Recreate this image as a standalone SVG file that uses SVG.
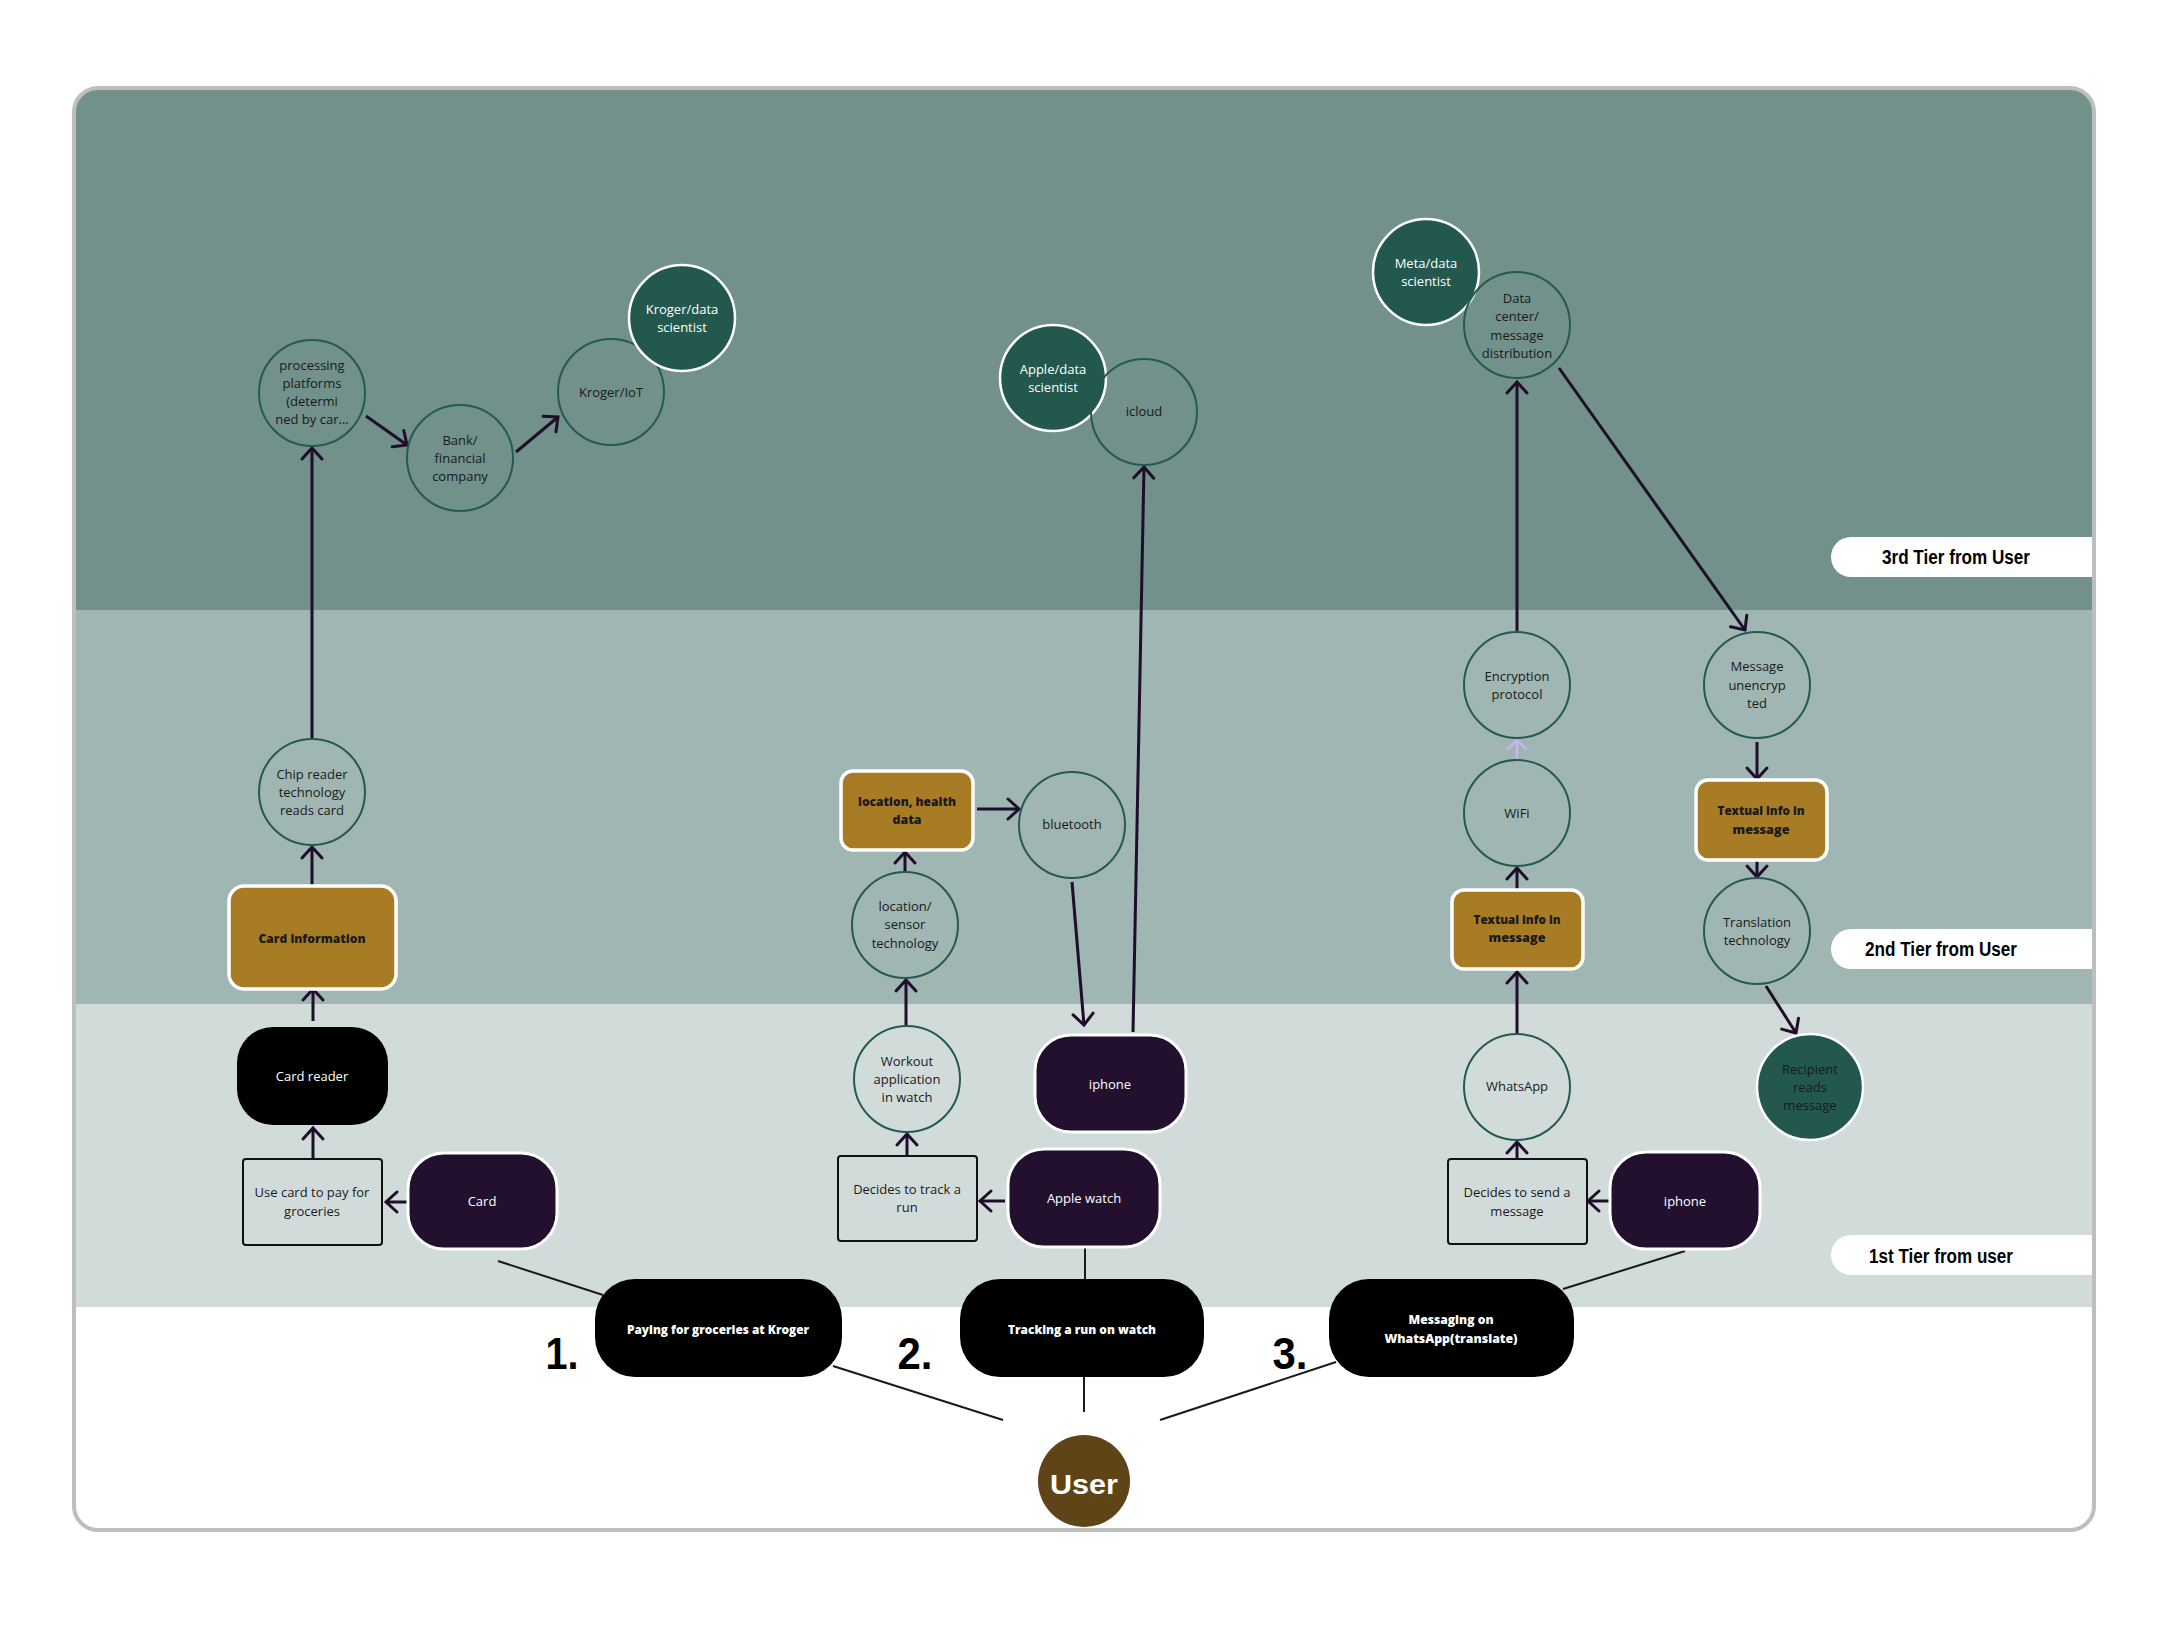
<svg xmlns="http://www.w3.org/2000/svg" width="2168" height="1632" viewBox="0 0 2168 1632">
<style>
text{font-family:"Open Sans","Noto Sans",sans-serif;font-size:13px;fill:#1a1a1a;text-anchor:middle}
.w{fill:#ffffff}
.b{font-weight:800}
.tier{font-family:"Liberation Sans",Arial,sans-serif;font-weight:900;font-size:20px;fill:#000}
.num{font-family:"Liberation Sans",Arial,sans-serif;font-weight:900;font-size:44px;fill:#000}
.c{fill:none;stroke:#245a4f;stroke-width:2}
.cd{fill:#23584e;stroke:#ffffff;stroke-width:2.5}
.gold{fill:#a87c24;stroke:#ffffff;stroke-width:3.5}
.pur{fill:#22102e;stroke:#ffffff;stroke-width:3}
.blk{fill:#000000}
.sq{fill:#d1dbda;stroke:#111111;stroke-width:2}
.ln{stroke:#1f0e2b;stroke-width:3;fill:none}
.lv{stroke:#c7b5ef;stroke-width:2.5;fill:none}
.tl{stroke:#1a1a1a;stroke-width:2;fill:none}
</style>
<defs>
<clipPath id="frameClip"><rect x="74" y="88" width="2020" height="1442" rx="24"/></clipPath>
<marker id="ah" markerUnits="userSpaceOnUse" viewBox="-14 -14 28 28" markerWidth="28" markerHeight="28" refX="0" refY="0" orient="auto">
<path d="M-11,-10 L0,0 L-11,10" fill="none" stroke="#1f0e2b" stroke-width="3" stroke-linecap="round"/>
</marker>
<marker id="ahl" markerUnits="userSpaceOnUse" viewBox="-14 -14 28 28" markerWidth="28" markerHeight="28" refX="0" refY="0" orient="auto">
<path d="M-9,-9 L0,0 L-9,9" fill="none" stroke="#c7b5ef" stroke-width="2.5" stroke-linecap="round"/>
</marker>
</defs>
<rect width="2168" height="1632" fill="#ffffff"/>
<g id="bands" clip-path="url(#frameClip)">
<rect x="74" y="88" width="2020" height="522" fill="#71918a"/>
<rect x="74" y="610" width="2020" height="394" fill="#a0b6b2"/>
<rect x="74" y="1004" width="2020" height="303" fill="#d1dbda"/>
<rect x="74" y="1307" width="2020" height="223" fill="#ffffff"/>
</g>
<g id="tier-labels">
<rect x="1831" y="537" width="290" height="40" rx="20" fill="#ffffff"/>
<text class="tier" x="1956" y="564" textLength="148" lengthAdjust="spacingAndGlyphs">3rd Tier from User</text>
<rect x="1831" y="929" width="290" height="40" rx="20" fill="#ffffff"/>
<text class="tier" x="1941" y="956" textLength="152" lengthAdjust="spacingAndGlyphs">2nd Tier from User</text>
<rect x="1831" y="1235" width="290" height="40" rx="20" fill="#ffffff"/>
<text class="tier" x="1941" y="1263" textLength="144" lengthAdjust="spacingAndGlyphs">1st Tier from user</text>
</g>
<rect id="frame" x="74" y="88" width="2020" height="1442" rx="24" fill="none" stroke="#bebebe" stroke-width="4"/>

<g id="connectors">
<line class="tl" x1="498" y1="1261" x2="603" y2="1295"/>
<line class="tl" x1="833" y1="1366" x2="1003" y2="1420"/>
<line class="tl" x1="1085" y1="1247" x2="1085" y2="1279"/>
<line class="tl" x1="1084" y1="1377" x2="1084" y2="1412"/>
<line class="tl" x1="1160" y1="1420" x2="1336" y2="1362"/>
<line class="tl" x1="1685" y1="1251" x2="1563" y2="1289"/>

<line class="ln" x1="312" y1="739" x2="312" y2="448" marker-end="url(#ah)"/>
<line class="ln" x1="366" y1="416" x2="407" y2="445" marker-end="url(#ah)"/>
<line class="ln" x1="516" y1="452" x2="558" y2="417" marker-end="url(#ah)"/>
<line class="ln" x1="312" y1="886" x2="312" y2="847" marker-end="url(#ah)"/>
<line class="ln" x1="313" y1="1021" x2="313" y2="989" marker-end="url(#ah)"/>
<line class="ln" x1="313" y1="1159" x2="313" y2="1128" marker-end="url(#ah)"/>
<line class="ln" x1="407" y1="1202" x2="386" y2="1202" marker-end="url(#ah)"/>

<line class="ln" x1="906" y1="1025" x2="906" y2="980" marker-end="url(#ah)"/>
<line class="ln" x1="905" y1="872" x2="905" y2="852" marker-end="url(#ah)"/>
<line class="ln" x1="977" y1="809" x2="1019" y2="809" marker-end="url(#ah)"/>
<line class="ln" x1="1072" y1="882" x2="1084" y2="1025" marker-end="url(#ah)"/>
<line class="ln" x1="1133" y1="1032" x2="1144" y2="467" marker-end="url(#ah)"/>
<line class="ln" x1="907" y1="1156" x2="907" y2="1134" marker-end="url(#ah)"/>
<line class="ln" x1="1005" y1="1201" x2="980" y2="1201" marker-end="url(#ah)"/>

<line class="ln" x1="1517" y1="1033" x2="1517" y2="972" marker-end="url(#ah)"/>
<line class="ln" x1="1517" y1="889" x2="1517" y2="868" marker-end="url(#ah)"/>
<line class="lv" x1="1517" y1="760" x2="1517" y2="740" marker-end="url(#ahl)"/>
<line class="ln" x1="1517" y1="632" x2="1517" y2="382" marker-end="url(#ah)"/>
<line class="ln" x1="1559" y1="368" x2="1745" y2="630" marker-end="url(#ah)"/>
<line class="ln" x1="1757" y1="742" x2="1757" y2="779" marker-end="url(#ah)"/>
<line class="ln" x1="1757" y1="861" x2="1757" y2="877" marker-end="url(#ah)"/>
<line class="ln" x1="1766" y1="986" x2="1796" y2="1033" marker-end="url(#ah)"/>
<line class="ln" x1="1517" y1="1159" x2="1517" y2="1142" marker-end="url(#ah)"/>
<line class="ln" x1="1610" y1="1201" x2="1588" y2="1201" marker-end="url(#ah)"/>
</g>

<g id="n-processing"><circle class="c" cx="312" cy="393" r="53"/>
<text x="312" y="370">processing</text><text x="312" y="388">platforms</text><text x="312" y="406">(determi</text><text x="312" y="424">ned by car...</text></g>
<g id="n-bank"><circle class="c" cx="460" cy="458" r="53"/>
<text x="460" y="445">Bank/</text><text x="460" y="463">financial</text><text x="460" y="481">company</text></g>
<g id="n-kroger-iot"><circle class="c" cx="611" cy="392" r="53"/>
<text x="611" y="397">Kroger/IoT</text></g>
<g id="n-kroger-ds"><circle class="cd" cx="682" cy="318" r="53"/>
<text class="w" x="682" y="314">Kroger/data</text><text class="w" x="682" y="332">scientist</text></g>
<g id="n-chip"><circle class="c" cx="312" cy="792" r="53"/>
<text x="312" y="779">Chip reader</text><text x="312" y="797">technology</text><text x="312" y="815">reads card</text></g>
<g id="n-card-info"><rect class="gold" x="229" y="886" width="167" height="103" rx="15"/>
<text class="b" x="312" y="943" textLength="107" lengthAdjust="spacingAndGlyphs">Card information</text></g>
<g id="n-card-reader"><rect class="blk" x="237" y="1027" width="151" height="98" rx="36"/>
<text class="w" x="312" y="1081">Card reader</text></g>
<g id="n-use-card"><rect class="sq" x="243" y="1159" width="139" height="86" rx="3"/>
<text x="312" y="1197">Use card to pay for</text><text x="312" y="1216">groceries</text></g>
<g id="n-card"><rect class="pur" x="408" y="1153" width="149" height="96" rx="36"/>
<text class="w" x="482" y="1206">Card</text></g>
<g id="n-paying"><rect class="blk" x="595" y="1279" width="247" height="98" rx="40"/>
<text class="w b" x="718" y="1334" textLength="182" lengthAdjust="spacingAndGlyphs">Paying for groceries at Kroger</text></g>
<text id="num-1" class="num" x="562" y="1369" textLength="33" lengthAdjust="spacingAndGlyphs">1.</text>

<g id="n-apple-ds"><circle class="cd" cx="1053" cy="378" r="53"/>
<text class="w" x="1053" y="374">Apple/data</text><text class="w" x="1053" y="392">scientist</text></g>
<g id="n-icloud"><circle class="c" cx="1144" cy="412" r="53"/>
<text x="1144" y="416">icloud</text></g>
<g id="n-loc-data"><rect class="gold" x="841" y="771" width="132" height="79" rx="12"/>
<text class="b" x="907" y="806" textLength="98" lengthAdjust="spacingAndGlyphs">location, health</text><text class="b" x="907" y="824" textLength="29" lengthAdjust="spacingAndGlyphs">data</text></g>
<g id="n-bluetooth"><circle class="c" cx="1072" cy="825" r="53"/>
<text x="1072" y="829">bluetooth</text></g>
<g id="n-sensor"><circle class="c" cx="905" cy="925" r="53"/>
<text x="905" y="911">location/</text><text x="905" y="929">sensor</text><text x="905" y="948">technology</text></g>
<g id="n-workout"><circle class="c" cx="907" cy="1079" r="53"/>
<text x="907" y="1066">Workout</text><text x="907" y="1084">application</text><text x="907" y="1102">in watch</text></g>
<g id="n-iphone-2"><rect class="pur" x="1035" y="1035" width="151" height="97" rx="36"/>
<text class="w" x="1110" y="1089">iphone</text></g>
<g id="n-decides-run"><rect class="sq" x="838" y="1156" width="139" height="85" rx="3"/>
<text x="907" y="1194">Decides to track a</text><text x="907" y="1212">run</text></g>
<g id="n-apple-watch"><rect class="pur" x="1008" y="1149" width="152" height="98" rx="36"/>
<text class="w" x="1084" y="1203">Apple watch</text></g>
<g id="n-tracking"><rect class="blk" x="960" y="1279" width="244" height="98" rx="40"/>
<text class="w b" x="1082" y="1334" textLength="148" lengthAdjust="spacingAndGlyphs">Tracking a run on watch</text></g>
<text id="num-2" class="num" x="915" y="1369" textLength="35" lengthAdjust="spacingAndGlyphs">2.</text>

<g id="n-meta-ds"><circle class="cd" cx="1426" cy="272" r="53"/>
<text class="w" x="1426" y="268">Meta/data</text><text class="w" x="1426" y="286">scientist</text></g>
<g id="n-datacenter"><circle class="c" cx="1517" cy="325" r="53"/>
<text x="1517" y="303">Data</text><text x="1517" y="321">center/</text><text x="1517" y="340">message</text><text x="1517" y="358">distribution</text></g>
<g id="n-encryption"><circle class="c" cx="1517" cy="685" r="53"/>
<text x="1517" y="681">Encryption</text><text x="1517" y="699">protocol</text></g>
<g id="n-unencrypted"><circle class="c" cx="1757" cy="685" r="53"/>
<text x="1757" y="671">Message</text><text x="1757" y="690">unencryp</text><text x="1757" y="708">ted</text></g>
<g id="n-wifi"><circle class="c" cx="1517" cy="813" r="53"/>
<text x="1517" y="818">WiFi</text></g>
<g id="n-textual-1"><rect class="gold" x="1452" y="890" width="131" height="79" rx="12"/>
<text class="b" x="1517" y="924" textLength="87" lengthAdjust="spacingAndGlyphs">Textual info in</text><text class="b" x="1517" y="942" textLength="57" lengthAdjust="spacingAndGlyphs">message</text></g>
<g id="n-textual-2"><rect class="gold" x="1696" y="780" width="131" height="80" rx="12"/>
<text class="b" x="1761" y="815" textLength="87" lengthAdjust="spacingAndGlyphs">Textual info in</text><text class="b" x="1761" y="834" textLength="57" lengthAdjust="spacingAndGlyphs">message</text></g>
<g id="n-translation"><circle class="c" cx="1757" cy="931" r="53"/>
<text x="1757" y="927">Translation</text><text x="1757" y="945">technology</text></g>
<g id="n-recipient"><circle class="cd" cx="1810" cy="1087" r="53"/>
<text x="1810" y="1074">Recipient</text><text x="1810" y="1092">reads</text><text x="1810" y="1110">message</text></g>
<g id="n-whatsapp"><circle class="c" cx="1517" cy="1087" r="53"/>
<text x="1517" y="1091">WhatsApp</text></g>
<g id="n-decides-msg"><rect class="sq" x="1448" y="1159" width="139" height="85" rx="3"/>
<text x="1517" y="1197">Decides to send a</text><text x="1517" y="1216">message</text></g>
<g id="n-iphone-3"><rect class="pur" x="1610" y="1152" width="150" height="97" rx="36"/>
<text class="w" x="1685" y="1206">iphone</text></g>
<g id="n-messaging"><rect class="blk" x="1329" y="1279" width="245" height="98" rx="40"/>
<text class="w b" x="1451" y="1324" textLength="85" lengthAdjust="spacingAndGlyphs">Messaging on</text><text class="w b" x="1451" y="1343" textLength="133" lengthAdjust="spacingAndGlyphs">WhatsApp(translate)</text></g>
<text id="num-3" class="num" x="1290" y="1369" textLength="35" lengthAdjust="spacingAndGlyphs">3.</text>

<g id="n-user"><circle cx="1084" cy="1481" r="46" fill="#5e4416"/>
<text x="1084" y="1494" font-family="Liberation Sans, Arial, sans-serif" font-weight="900" font-size="28" fill="#ffffff" textLength="68" lengthAdjust="spacingAndGlyphs" style="font-family:'Liberation Sans',Arial,sans-serif;font-size:28px;font-weight:900;fill:#fff">User</text></g>
</svg>
